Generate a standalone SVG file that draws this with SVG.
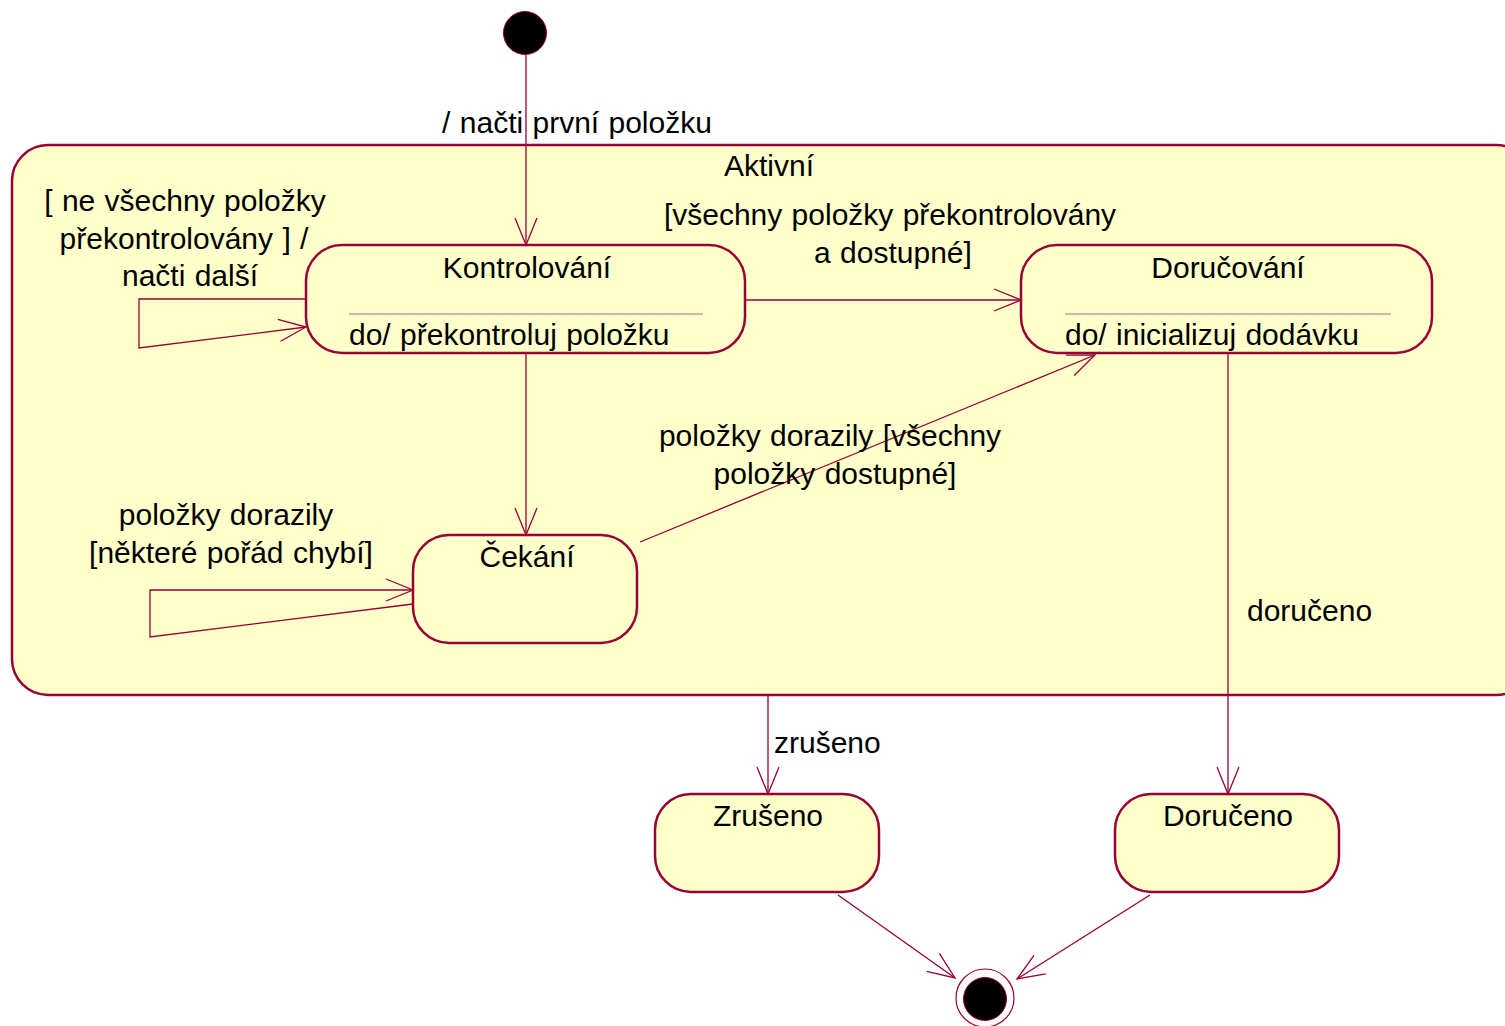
<svg xmlns="http://www.w3.org/2000/svg" width="1505" height="1026" viewBox="0 0 1505 1026">
<style>
.st{fill:#FFFFCC;stroke:#990033;stroke-width:2.5}
.sep{stroke:#C0607F;stroke-width:1}
.c{fill:none;stroke:#990033;stroke-width:1.3}
text{font-family:"Liberation Sans",Arial,sans-serif;font-size:30px;word-spacing:1px;fill:#000}
.m{text-anchor:middle}
</style>
<defs>
<marker id="a" markerUnits="userSpaceOnUse" markerWidth="30" markerHeight="26" viewBox="0 0 30 26" refX="28" refY="13" orient="auto">
<path d="M1,2 L28,13 L1,24" fill="none" stroke="#990033" stroke-width="1.3"/>
</marker>
</defs>
<rect width="1505" height="1026" fill="#FFFFFF"/>
<g id="aktivni">
<rect class="st" x="12" y="145" width="1520" height="550" rx="36" ry="36"/>
<text class="m" x="769" y="176">Aktivní</text>
</g>
<g id="initial">
<circle cx="525" cy="33" r="21.5" fill="#000" stroke="#990033" stroke-width="1"/>
</g>
<g id="kontrolovani">
<rect class="st" x="306" y="245" width="439" height="108" rx="36" ry="36"/>
<text class="m" x="527" y="278">Kontrolování</text>
<line class="sep" x1="349" y1="314" x2="703" y2="314"/>
<text x="349" y="345">do/ překontroluj položku</text>
</g>
<g id="dorucovani">
<rect class="st" x="1021" y="245" width="411" height="108" rx="36" ry="36"/>
<text class="m" x="1228" y="278">Doručování</text>
<line class="sep" x1="1065" y1="314" x2="1391" y2="314"/>
<text x="1065" y="345">do/ inicializuj dodávku</text>
</g>
<g id="cekani">
<rect class="st" x="413" y="535" width="224" height="108" rx="36" ry="36"/>
<text class="m" x="527" y="567">Čekání</text>
</g>
<g id="zruseno">
<rect class="st" x="655" y="794" width="224" height="98" rx="36" ry="36"/>
<text class="m" x="768" y="826">Zrušeno</text>
</g>
<g id="doruceno">
<rect class="st" x="1115" y="794" width="224" height="98" rx="36" ry="36"/>
<text class="m" x="1228" y="826">Doručeno</text>
</g>
<g id="final">
<circle cx="985" cy="998" r="29" fill="#FFFFFF" stroke="#990033" stroke-width="1.2"/>
<circle cx="985" cy="999" r="21.5" fill="#000" stroke="#990033" stroke-width="1"/>
</g>
<g id="connectors">
<line class="c" x1="526" y1="55" x2="526" y2="245" marker-end="url(#a)"/>
<line class="c" x1="745" y1="300" x2="1021" y2="300" marker-end="url(#a)"/>
<polyline class="c" points="306,299 139,299 139,348 306,327" marker-end="url(#a)"/>
<line class="c" x1="526" y1="353" x2="526" y2="535" marker-end="url(#a)"/>
<polyline class="c" points="413,604 150,637 150,590 413,590" marker-end="url(#a)"/>
<line class="c" x1="640" y1="542" x2="1095" y2="355" marker-end="url(#a)"/>
<line class="c" x1="1228" y1="353" x2="1228" y2="794" marker-end="url(#a)"/>
<line class="c" x1="768" y1="695" x2="768" y2="794" marker-end="url(#a)"/>
<line class="c" x1="838" y1="895" x2="955" y2="978" marker-end="url(#a)"/>
<line class="c" x1="1150" y1="895" x2="1017" y2="979" marker-end="url(#a)"/>
</g>
<g id="labels">
<text class="m" x="577" y="133">/ načti první položku</text>
<text class="m" x="890" y="225">[všechny položky překontrolovány</text>
<text class="m" x="893" y="263">a dostupné]</text>
<text class="m" x="185" y="211">[ ne všechny položky</text>
<text class="m" x="184" y="249">překontrolovány ] /</text>
<text class="m" x="190" y="286">načti další</text>
<text class="m" x="226" y="525">položky dorazily</text>
<text class="m" x="231" y="563">[některé pořád chybí]</text>
<text class="m" x="830" y="446">položky dorazily [všechny</text>
<text class="m" x="835" y="484">položky dostupné]</text>
<text x="1247" y="621">doručeno</text>
<text x="774" y="753">zrušeno</text>
</g>
</svg>
